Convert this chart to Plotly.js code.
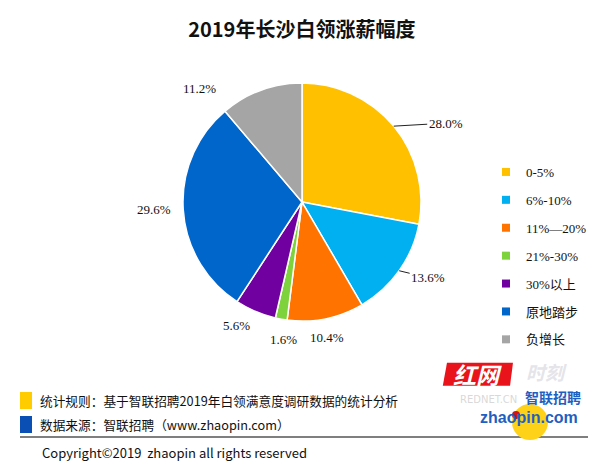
<!DOCTYPE html>
<html>
<head>
<meta charset="utf-8">
<script src="https://cdn.plot.ly/plotly-3.0.1.min.js"></script>
<style>html,body{margin:0;padding:0;background:#fff}#chart{width:600px;height:470px}</style>
</head>
<body>
<div id="chart"></div>
<script>
const categories = ["0-5%", "6%-10%", "11%—20%", "21%-30%", "30%以上", "原地踏步", "负增长"];
const shares = [28.0, 13.6, 10.4, 1.6, 5.6, 29.6, 11.2];
const colors = ["#FFC000", "#00B0F0", "#FF7300", "#7ED33C", "#7000A0", "#0066CC", "#A5A5A5"];
const titleText = "2019年长沙白领涨薪幅度";
const noteRule = "统计规则：基于智联招聘2019年白领满意度调研数据的统计分析";
const noteSource = "数据来源：智联招聘（www.zhaopin.com）";
const copyright = "Copyright©2019  zhaopin all rights reserved";

const serif = "Liberation Serif, 'Noto Sans CJK SC', serif";
const cjk = "'Noto Sans CJK SC', 'Noto Sans', sans-serif";

// layout settings (pixel geometry of the page)
const W = 600, H = 470;
const pieDomain = {x: [0.305, 0.7017], y: [0.3149, 0.8255]};
// label placement: pixel offset of each label from the slice's outer edge at its mid-angle, and leader flag
const labelOffsets = [[52, -3], [29, 7], [1, 19], [2, 20], [-19, 14], [-29, 0], [-61, -2]];
const labelLeader = [true, true, false, false, false, false, false];

const cx = (pieDomain.x[0] + pieDomain.x[1]) / 2 * W;
const cy = (1 - (pieDomain.y[0] + pieDomain.y[1]) / 2) * H;
const R = Math.min((pieDomain.x[1] - pieDomain.x[0]) * W, (pieDomain.y[1] - pieDomain.y[0]) * H) / 2;
const total = shares.reduce((a, b) => a + b, 0);

const labelAnns = [];
let cum = 0;
shares.forEach((v, i) => {
  const mid = (cum + v / 2) / total * 2 * Math.PI;
  cum += v;
  const ex = cx + R * Math.sin(mid), ey = cy - R * Math.cos(mid);
  const [dx, dy] = labelOffsets[i];
  labelAnns.push({
    xref: "paper", yref: "paper", x: ex / W, y: 1 - ey / H,
    text: v.toFixed(1) + "%",
    showarrow: true, ax: dx, ay: dy, arrowhead: 0, arrowwidth: 1,
    arrowcolor: labelLeader[i] ? "#222" : "rgba(0,0,0,0)",
    font: {family: serif, size: 13, color: "#111"}
  });
});

const pie = {
  type: "pie",
  labels: categories,
  values: shares,
  sort: false,
  direction: "clockwise",
  rotation: 0,
  marker: {colors: colors, line: {color: "#ffffff", width: 1.5}},
  textinfo: "none",
  showlegend: false,
  hoverinfo: "label+percent",
  domain: pieDomain
};

const legendTraces = categories.map((c, i) => ({
  type: "scatter",
  mode: "markers",
  x: [null], y: [null],
  name: c,
  legendgroup: "g" + i,
  marker: {symbol: "square", size: 8, color: colors[i]},
  showlegend: true,
  hoverinfo: "skip"
}));

const layout = {
  width: W, height: H,
  margin: {l: 0, r: 0, t: 0, b: 0},
  paper_bgcolor: "#ffffff",
  plot_bgcolor: "rgba(0,0,0,0)",
  xaxis: {visible: false, range: [0, 1], domain: [0.9, 0.91]},
  yaxis: {visible: false, range: [0, 1], domain: [0.9, 0.91]},
  title: {text: "<b>" + titleText + "</b>", x: 0.503, xanchor: "center", y: 1 - 30/470, yanchor: "middle",
          font: {family: cjk, size: 20, color: "#111"}},
  showlegend: true,
  legend: {
    x: 0.81, xanchor: "left", y: 1 - 157/470, yanchor: "top",
    traceorder: "grouped", tracegroupgap: 8,
    font: {family: serif, size: 13, color: "#111"},
    bgcolor: "rgba(0,0,0,0)", itemwidth: 30
  },
  shapes: [
    {type: "rect", xref: "paper", yref: "paper", x0: 20/600, x1: 32/600, y0: 1-409/470, y1: 1-392/470, fillcolor: "#FFCC00", line: {width: 0}},
    {type: "rect", xref: "paper", yref: "paper", x0: 20/600, x1: 32/600, y0: 1-433/470, y1: 1-416/470, fillcolor: "#0A4FB3", line: {width: 0}},
    {type: "line", xref: "paper", yref: "paper", x0: 20/600, x1: 588/600, y0: 1-437/470, y1: 1-437/470, line: {color: "#555", width: 1.5}},
    // watermark logo approximation
    {type: "circle", xref: "paper", yref: "paper", x0: 512/600, x1: 548/600, y0: 1-440/470, y1: 1-404/470, fillcolor: "#FFD21A", line: {width: 0}},
    {type: "path", xref: "paper", yref: "paper", path: "M 0.745 0.228 L 0.855 0.228 L 0.850 0.179 L 0.738 0.179 Z", fillcolor: "#E8131B", line: {width: 0}},
    {type: "circle", xref: "paper", yref: "paper", x0: 512/600, x1: 520/600, y0: 1-419/470, y1: 1-411/470, fillcolor: "#D4141B", line: {width: 0}}
  ],
  annotations: labelAnns.concat([
    {xref: "paper", yref: "paper", x: 38/600, y: 1-400/470, xanchor: "left", yanchor: "middle", showarrow: false,
     text: noteRule, font: {family: cjk, size: 12.7, color: "#111"}},
    {xref: "paper", yref: "paper", x: 38/600, y: 1-424/470, xanchor: "left", yanchor: "middle", showarrow: false,
     text: noteSource, font: {family: cjk, size: 12.7, color: "#111"}},
    {xref: "paper", yref: "paper", x: 40/600, y: 1-452/470, xanchor: "left", yanchor: "middle", showarrow: false,
     text: copyright, font: {family: cjk, size: 13, color: "#111"}},
    {xref: "paper", yref: "paper", x: 477/600, y: 1-374/470, xanchor: "center", yanchor: "middle", showarrow: false,
     text: "<b><i>红网</i></b>", font: {family: cjk, size: 23, color: "#ffffff"}},
    {xref: "paper", yref: "paper", x: 546/600, y: 1-371/470, xanchor: "center", yanchor: "middle", showarrow: false,
     text: "<b><i>时刻</i></b>", font: {family: cjk, size: 19, color: "rgba(205,205,215,0.55)"}},
    {xref: "paper", yref: "paper", x: 488/600, y: 1-399/470, xanchor: "center", yanchor: "middle", showarrow: false,
     text: "REDNET.CN", font: {family: "DejaVu Sans", size: 10, color: "rgba(190,190,190,0.6)"}},
    {xref: "paper", yref: "paper", x: 553/600, y: 1-397/470, xanchor: "center", yanchor: "middle", showarrow: false,
     text: "<b>智联招聘</b>", font: {family: cjk, size: 14, color: "#1F5FC2"}},
    {xref: "paper", yref: "paper", x: 529/600, y: 1-417/470, xanchor: "center", yanchor: "middle", showarrow: false,
     text: "<b>zhaopin.com</b>", font: {family: "Liberation Sans", size: 16, color: "#1F5FC2"}}
  ])
};

Plotly.newPlot("chart", [pie].concat(legendTraces), layout, {displayModeBar: false, staticPlot: true});
</script>
</body>
</html>
